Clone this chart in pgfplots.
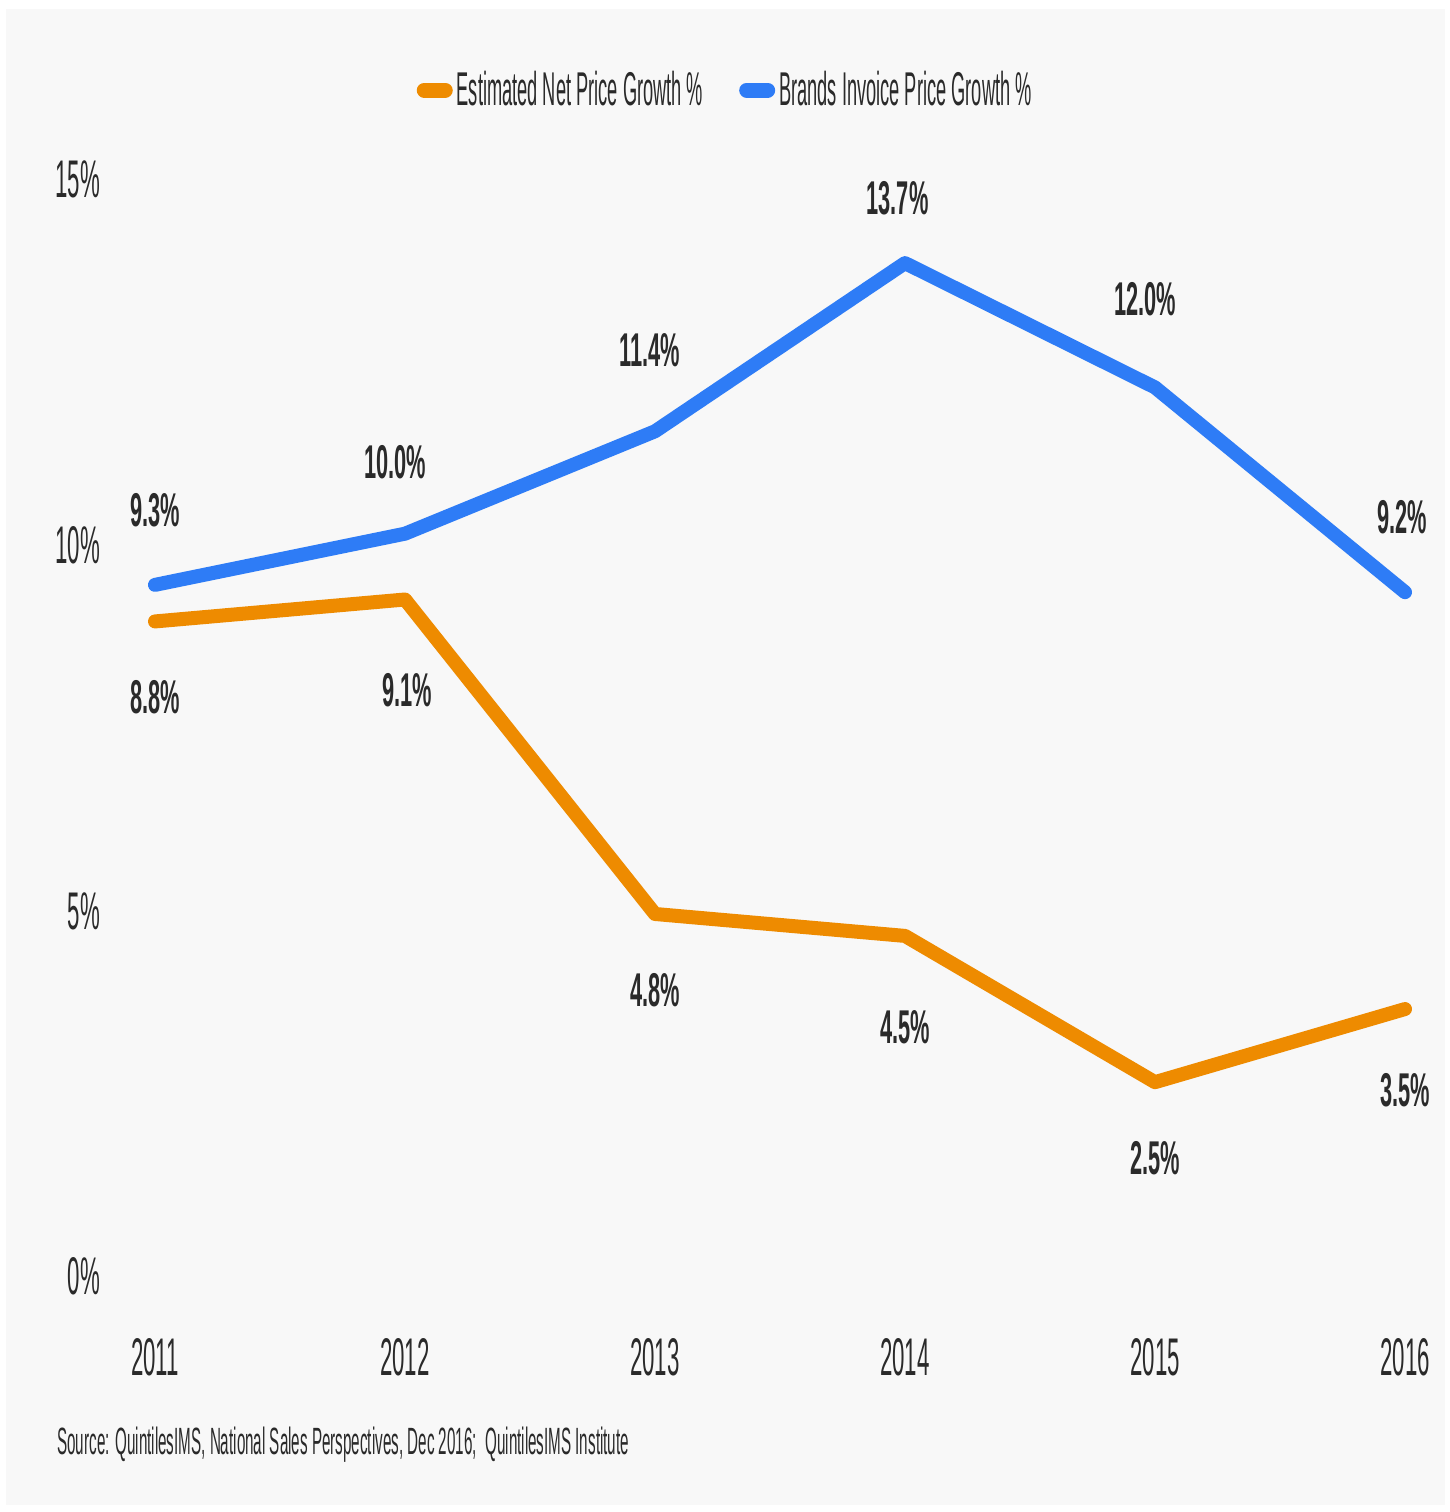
\documentclass[border=0pt]{standalone}
\usepackage{pgfplots}
\pgfplotsset{compat=1.18}
\usepackage{fontspec}
\setmainfont{Liberation Sans}[FakeStretch=0.42]
\newfontfamily\lblfont{Liberation Sans}[FakeStretch=0.46]
\newfontfamily\legfont{Liberation Sans}[FakeStretch=0.385]
\newfontfamily\srcfont{Liberation Sans}[FakeStretch=0.40]
\definecolor{corange}{HTML}{EE8B00}
\definecolor{cblue}{HTML}{2E7CF6}
\definecolor{ctext}{HTML}{2A2A2A}
\definecolor{cbg}{HTML}{F8F8F8}
\begin{document}
\begin{tikzpicture}
\fill[white] (0pt,0pt) rectangle (725pt,-756pt);
\fill[cbg] (3pt,-4.5pt) rectangle (722.5pt,-752.5pt);
\begin{axis}[
  at={(77.5pt,-632.5pt)}, anchor=south west,
  scale only axis, width=625pt, height=548.5pt,
  xmin=2011, xmax=2016, ymin=0, ymax=15,
  clip=false,
  axis line style={draw=none}, major tick length=0pt,
  xtick={2011,2012,2013,2014,2015,2016},
  xticklabels={2011,2012,2013,2014,2015,2016},
  ytick={0,5,10,15},
  yticklabels={0\%,5\%,10\%,15\%},
  tick label style={font=\fontsize{26.5}{26.5}\selectfont, text=ctext},
  xticklabel style={anchor=north, yshift=-33pt},
  yticklabel style={anchor=east, xshift=-24pt, yshift=-5.8pt},
  legend style={at={(0.4570,1.071)}, anchor=center, draw=none, fill=none,
    legend columns=2, font=\legfont\fontsize{23.7}{23.7}\selectfont, text=ctext,
    /tikz/every even column/.append style={column sep=16pt}},
  legend image code/.code={\draw[line width=7.5pt, line cap=round, #1] (0pt,0pt) -- (10.5pt,0pt);},
]
\addplot[corange, line width=7pt, line join=round, line cap=round] coordinates {
  (2011,8.8) (2012,9.1) (2013,4.8) (2014,4.5) (2015,2.5) (2016,3.5)};
\addlegendentry{Estimated Net Price Growth \%}
\addplot[cblue, line width=7pt, line join=round, line cap=round] coordinates {
  (2011,9.3) (2012,10.0) (2013,11.4) (2014,13.7) (2015,12.0) (2016,9.2)};
\addlegendentry{Brands Invoice Price Growth \%}
\begin{scope}[every node/.style={font=\lblfont\bfseries\fontsize{23.7}{23.7}\selectfont, text=ctext}]
\node at (axis cs:2011,10.32) {9.3\%};
\node at (axis cs:2011.96,10.98) {10.0\%};
\node at (axis cs:2012.98,12.51) {11.4\%};
\node at (axis cs:2013.97,14.59) {13.7\%};
\node at (axis cs:2014.96,13.20) {12.0\%};
\node at (axis cs:2015.99,10.23) {9.2\%};
\node at (axis cs:2011,7.77) {8.8\%};
\node at (axis cs:2012.01,7.86) {9.1\%};
\node at (axis cs:2013,3.76) {4.8\%};
\node at (axis cs:2014,3.25) {4.5\%};
\node at (axis cs:2015,1.46) {2.5\%};
\node at (axis cs:2016,2.39) {3.5\%};
\end{scope}
\end{axis}
\node[anchor=west, inner sep=0pt, text=ctext, font=\srcfont\fontsize{19}{19}\selectfont] at (28.5pt,-722.5pt) {Source: QuintilesIMS, National Sales Perspectives, Dec 2016;\ \ QuintilesIMS Institute};
\end{tikzpicture}
\end{document}
